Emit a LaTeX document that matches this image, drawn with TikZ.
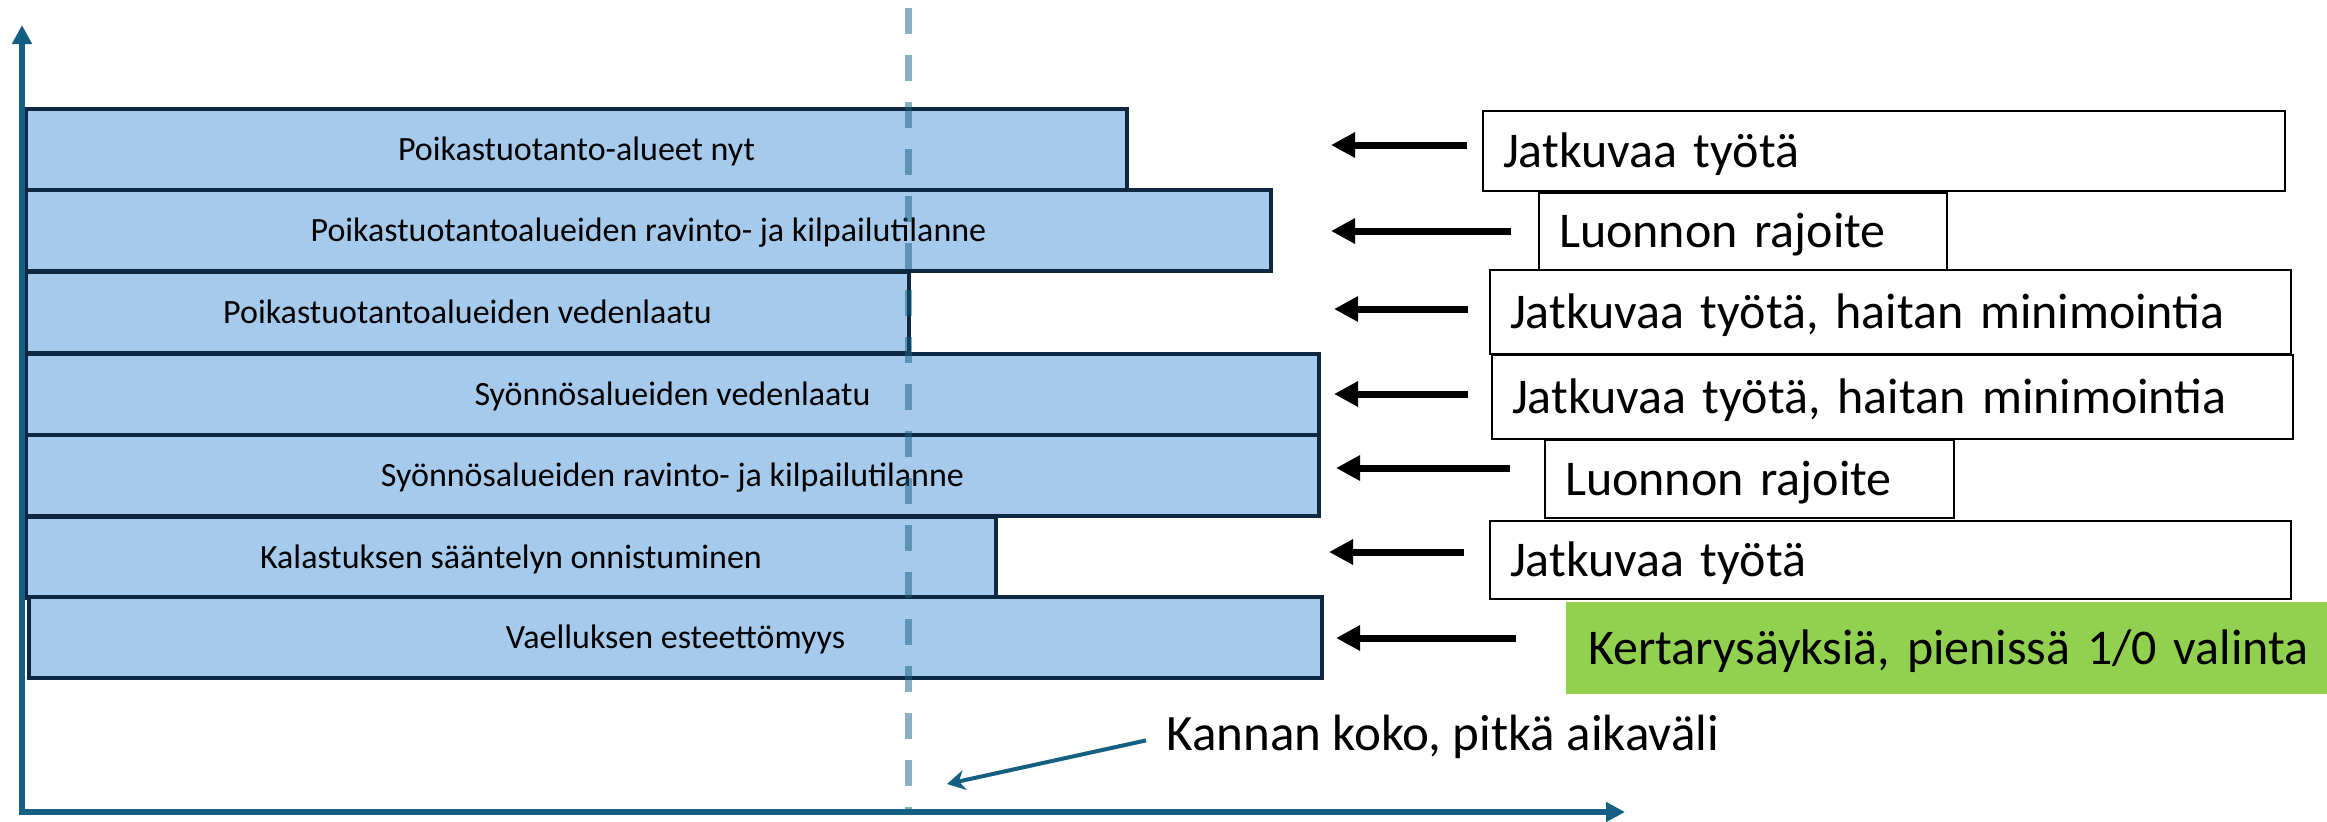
\documentclass[tikz,border=0pt]{standalone}
\usepackage{fontspec}
\setmainfont{Carlito}
\usetikzlibrary{arrows.meta}
\definecolor{axisblue}{RGB}{21,96,130}
\definecolor{barfill}{RGB}{166,202,236}
\definecolor{barline}{RGB}{14,40,65}
\definecolor{notegreen}{RGB}{146,208,80}
\tikzset{
  axis/.style={draw=axisblue, line width=3.25pt},
  bar/.style={draw=barline, line width=2pt, fill=barfill, anchor=north west, minimum height=40.5pt,
    inner sep=0pt, text height=11pt, text depth=0pt, font=\fontsize{17}{19}\selectfont},
  note/.style={draw=black, line width=1pt, fill=white, anchor=north west, align=left,
    inner xsep=10pt, inner ysep=0pt, text height=16pt, text depth=0pt, font=\fontsize{25}{28}\selectfont},
  fatarrow/.style={line width=3.5pt, -{Triangle[length=12pt,width=12pt]}},
  pointer/.style={draw=axisblue, line width=2pt, -{Stealth[length=9pt,width=10pt]}},
}
\begin{document}
\begin{tikzpicture}[x=0.5pt,y=0.5pt,yscale=-1,xscale=1]
        \useasboundingbox (0,0) rectangle (2327,821);
        % Bars
        \node[bar, minimum width=550.5pt] (b1) at (24,107) {Poikastuotanto-alueet nyt};
        \node[bar, minimum width=622.5pt] (b2) at (24,188) {Poikastuotantoalueiden ravinto- ja kilpailutilanne};
        \node[bar, minimum width=441.5pt] (b3) at (24,270) {Poikastuotantoalueiden vedenlaatu};
        \node[bar, minimum width=646.5pt] (b4) at (24,352) {Syönnösalueiden vedenlaatu};
        \node[bar, minimum width=646.5pt] (b5) at (24,433) {Syönnösalueiden ravinto- ja kilpailutilanne};
        \node[bar, minimum width=485pt] (b6) at (24,515) {Kalastuksen sääntelyn onnistuminen};
        \node[bar, minimum width=646.5pt] (b7) at (27,595) {Vaelluksen esteettömyys};
        % Axes
        \draw[axis, {Triangle[length=9.5pt,width=9.5pt]}-{Triangle[length=9.5pt,width=9.5pt]}] (22,25) -- (22,812) -- (1625,812);
        % Dashed line
        \draw[axisblue, draw opacity=0.5, line width=3.5pt, dash pattern=on 13pt off 10.5pt] (908,8) -- (908,812);
        % Text Node
        \node[note, text width=381pt, minimum height=40pt] (n1) at (1482,110) {Jatkuvaa työtä};
        \node[note, text width=184pt, minimum height=38.5pt] (n2) at (1538,192) {Luonnon rajoite};
        \node[note, text width=380.5pt, minimum height=42pt] (n3) at (1489,269) {Jatkuvaa työtä, haitan minimointia};
        \node[note, text width=380.5pt, minimum height=42pt] (n4) at (1491,354) {Jatkuvaa työtä, haitan minimointia};
        \node[note, text width=184.5pt, minimum height=39pt] (n5) at (1544,439) {Luonnon rajoite};
        \node[note, text width=380.5pt, minimum height=39pt] (n6) at (1489,520) {Jatkuvaa työtä};
        \node[note, draw=none, fill=notegreen, inner xsep=11pt, text width=380pt, minimum height=46pt] (n7) at (1565,601) {Kertarysäyksiä, pienissä 1/0 valinta};
        % Arrows
        \foreach \i/\tx/\hx/\y in {1/1467/1331/145, 2/1511/1331/231, 3/1468/1334/309, 4/1468/1334/394, 5/1510/1336/468, 6/1464/1329/552, 7/1516/1336/638} {
          \coordinate (tail\i) at (\tx,\y);
          \coordinate (tip\i) at (\hx,\y);
          \draw[fatarrow] (tail\i) -- (tip\i);
        }
        % Text Node
        \node[anchor=base west, inner sep=0pt, font=\fontsize{25.5}{28}\selectfont] (kanta) at (1166,750) {Kannan koko, pitkä aikaväli};
        \coordinate (kantatip) at (947,784);
        \draw[pointer] ([xshift=-10pt,yshift=2pt]kanta.west) -- (kantatip);
\end{tikzpicture}
\end{document}
